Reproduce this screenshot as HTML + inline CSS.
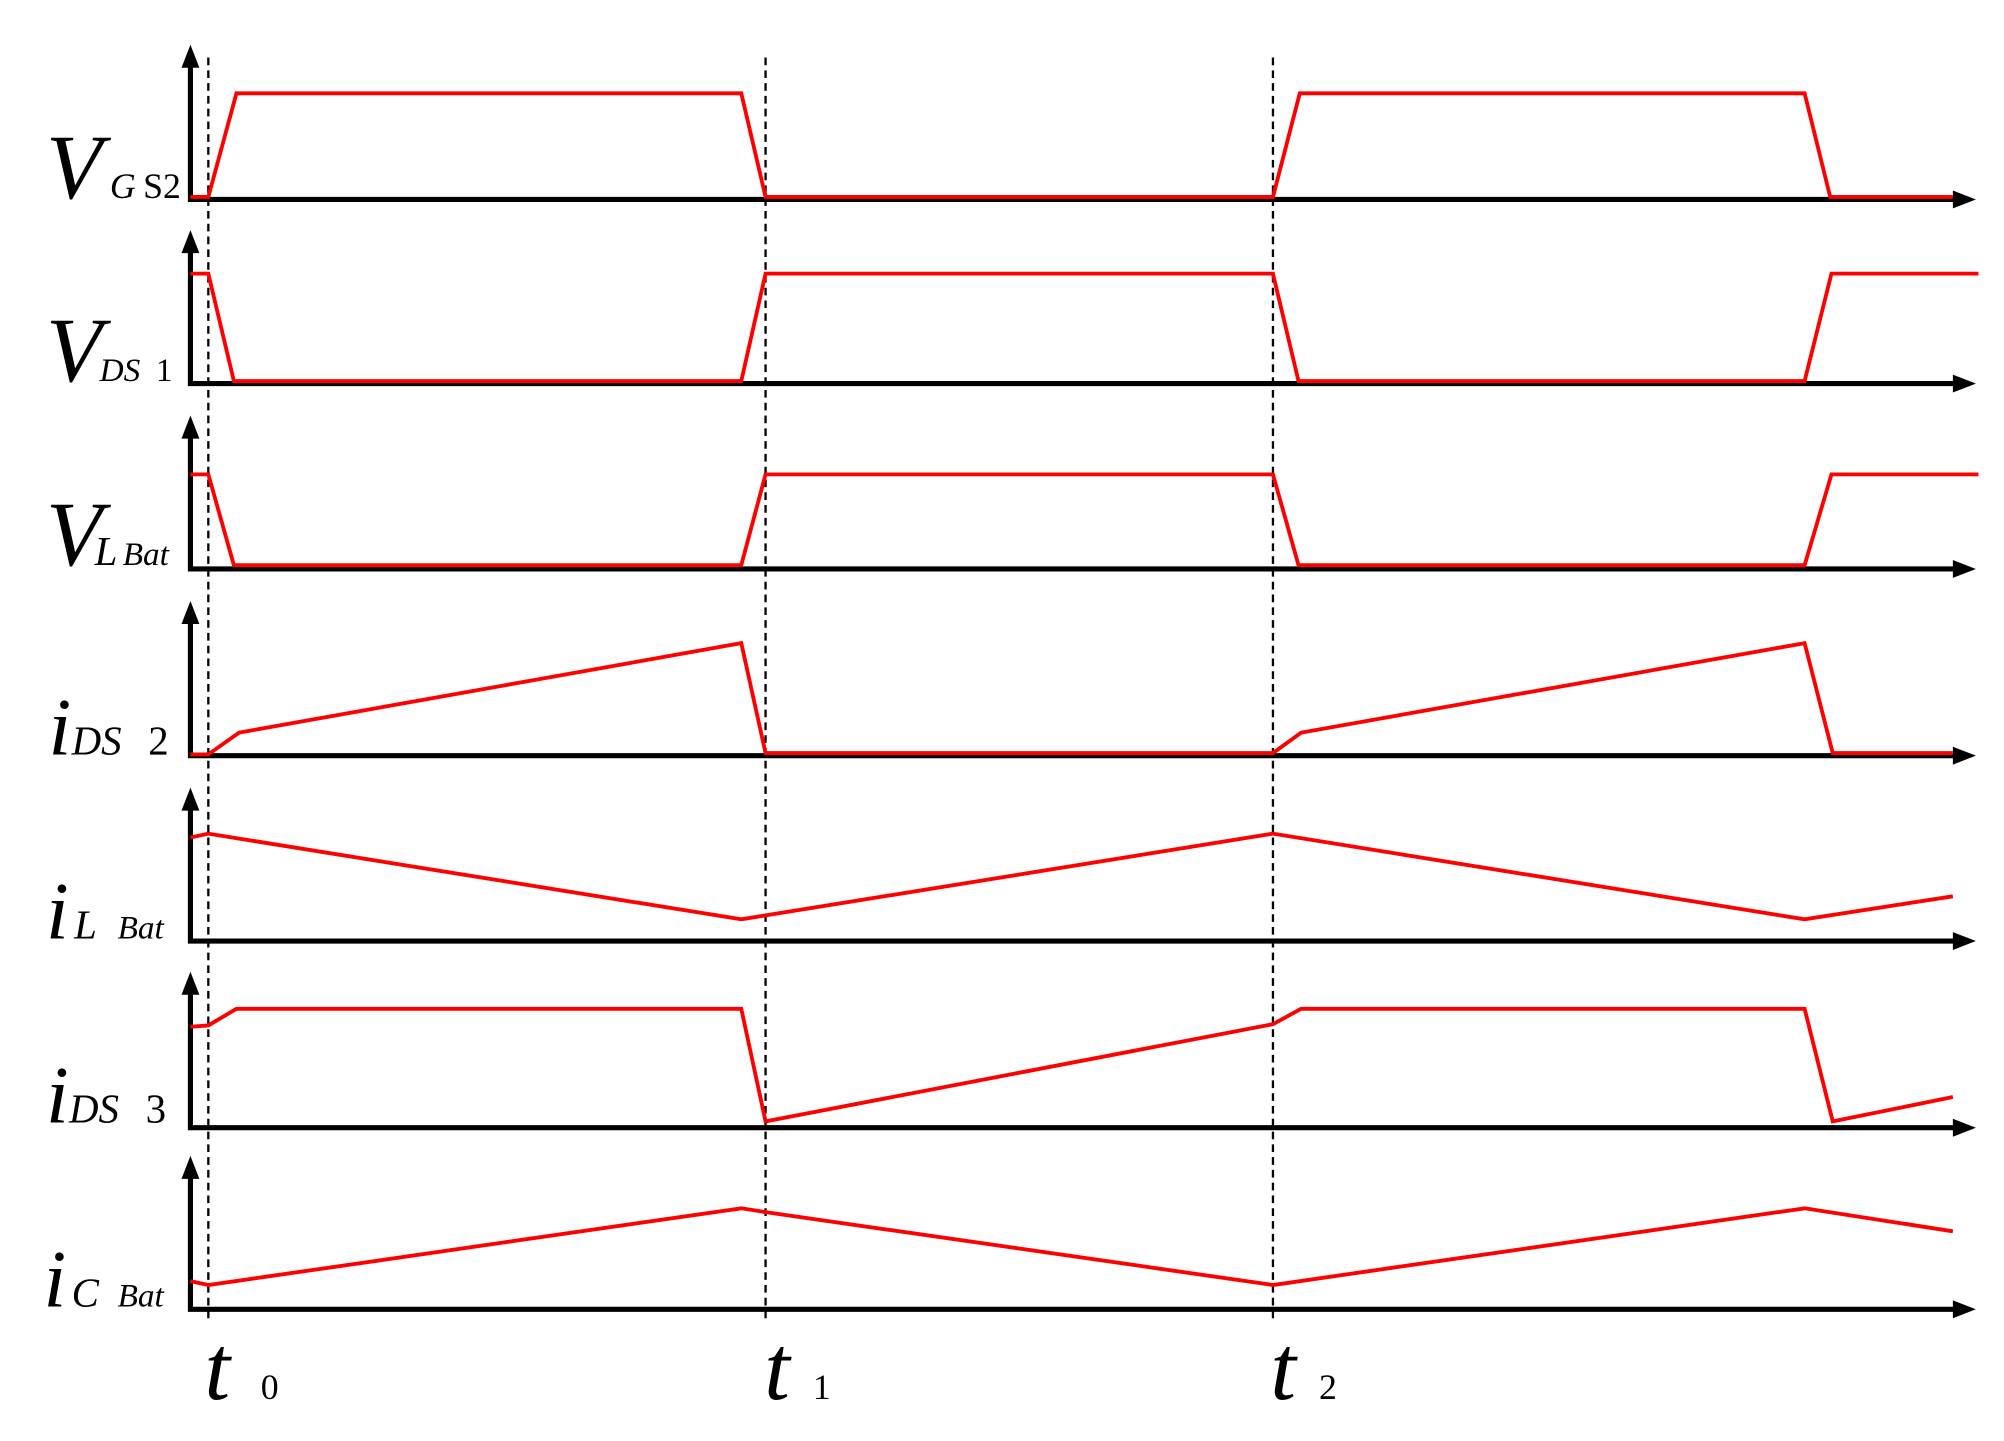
<!DOCTYPE html><html><head><style>html,body{margin:0;padding:0;background:#fff}svg{display:block}</style></head><body>
<svg width="2004" height="1441" viewBox="0 0 1568 1127" preserveAspectRatio="none" xmlns="http://www.w3.org/2000/svg" font-family="Liberation Serif, serif">
<g stroke="#000" stroke-width="1.8" stroke-dasharray="6,4">
<line x1="163" y1="45" x2="163" y2="1035"/><line x1="599" y1="45" x2="599" y2="1035"/><line x1="996" y1="45" x2="996" y2="1035"/>
</g>
<g fill="#000">
<path d="M149,35l-7,18h14z"/><path d="M149,180l-7,18h14z"/><path d="M149,325l-7,18h14z"/><path d="M149,470l-7,18h14z"/><path d="M149,616l-7,18h14z"/><path d="M149,760l-7,18h14z"/><path d="M149,904l-7,18h14z"/>
<path d="M1546,156l-18,-7v14z"/><path d="M1546,300l-18,-7v14z"/><path d="M1546,445l-18,-7v14z"/><path d="M1546,591l-18,-7v14z"/><path d="M1546,736l-18,-7v14z"/><path d="M1546,882l-18,-7v14z"/><path d="M1546,1024l-18,-7v14z"/>
</g>
<g stroke="#000" stroke-width="4" fill="none">
<path d="M149,50V156H1530"/><path d="M149,195V300H1530"/><path d="M149,340V445H1530"/><path d="M149,485V591H1530"/><path d="M149,631V736H1530"/><path d="M149,775V882H1530"/><path d="M149,919V1024H1530"/>
</g>
<g stroke="#f00" stroke-width="3" fill="none" stroke-linejoin="miter">
<polyline points="149,154 163,154 185,73 580,73 599,154 996,154 1017,73 1412,73 1432,154 1528,154"/>
<polyline points="149,214 163,214 183,298 580,298 599,214 996,214 1016,298 1412,298 1433,214 1548,214"/>
<polyline points="149,371 163,371 183,442 580,442 599,371 996,371 1016,442 1412,442 1433,371 1548,371"/>
<polyline points="149,590 163,590 187,573 580,503 599,589 996,589 1018,573 1412,503 1434,589 1528,589"/>
<polyline points="149,655 163,652 580,719 996,652 1412,719 1528,701"/>
<polyline points="149,803 163,802 185,789 580,789 599,877 996,801 1018,789 1412,789 1434,877 1528,858"/>
<polyline points="149,1002 163,1005 580,945 599,948 996,1005 1412,945 1528,963"/>
</g>
<g fill="#000" font-style="italic">
<text x="36" y="155" font-size="72">V</text><text x="86" y="155" font-size="28">G</text>
<text x="36" y="298" font-size="72">V</text><text x="78" y="298" font-size="26">DS</text>
<text x="36" y="442" font-size="72">V</text><text x="74" y="442" font-size="32">L</text><text x="96" y="442" font-size="26">Bat</text>
<text x="38" y="590" font-size="64">i</text><text x="56" y="590" font-size="32">DS</text>
<text x="36" y="734" font-size="64">i</text><text x="58" y="734" font-size="32">L</text><text x="92" y="734" font-size="26">Bat</text>
<text x="36" y="878" font-size="64">i</text><text x="54" y="878" font-size="32">DS</text>
<text x="34" y="1022" font-size="64">i</text><text x="56" y="1022" font-size="32">C</text><text x="92" y="1022" font-size="26">Bat</text>
<text x="160" y="1094" font-size="72">t</text><text x="598" y="1094" font-size="72">t</text><text x="994" y="1094" font-size="72">t</text>
</g>
<g fill="#000">
<text x="112" y="155" font-size="28">S2</text>
<text x="122" y="298" font-size="26">1</text>
<text x="116" y="590" font-size="32">2</text>
<text x="114" y="878" font-size="32">3</text>
<text x="204" y="1094" font-size="28">0</text><text x="636" y="1094" font-size="28">1</text><text x="1032" y="1094" font-size="28">2</text>
</g>
</svg>
</body></html>
